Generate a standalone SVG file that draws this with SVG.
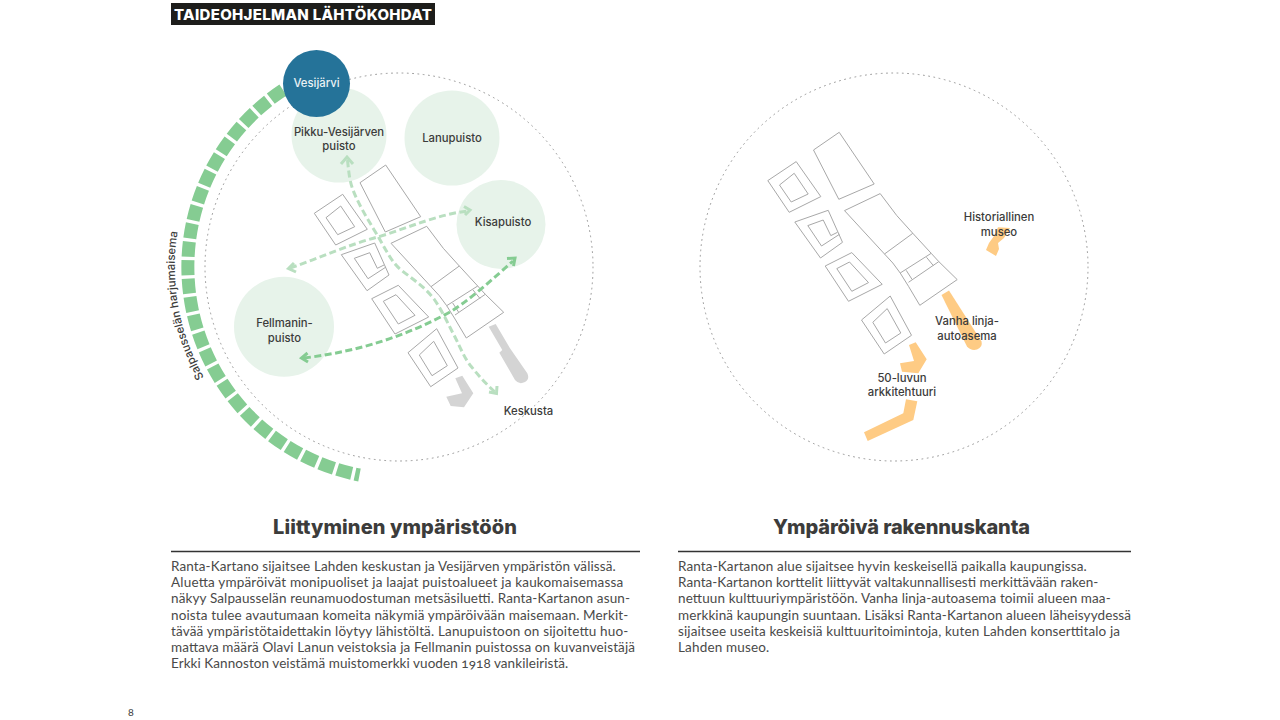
<svg xmlns="http://www.w3.org/2000/svg" xmlns:xlink="http://www.w3.org/1999/xlink" width="1280" height="720" viewBox="0 0 1280 720">
<style>
text{font-family:"Lato","Liberation Sans",sans-serif;fill:#3c3c3b}
.l{font-family:"Inter","Lato",sans-serif;font-size:11.3px;font-weight:500;text-anchor:middle}
.b{font-size:13.5px;fill:#4a4a49;font-variant-numeric:oldstyle-nums}
.h{font-family:"Inter","Lato",sans-serif;font-size:20px;font-weight:800;text-anchor:middle}
.o{fill:none;stroke:#a8a8a8;stroke-width:1}
.d{fill:none;stroke:#959595;stroke-width:1;stroke-dasharray:.9 4.4;stroke-linecap:round}
.p{fill:#e7f3ea}
.a1{fill:none;stroke:#b9dfc0;stroke-width:3;stroke-dasharray:7 3.5}
.a2{fill:none;stroke:#85cc92;stroke-width:3;stroke-dasharray:7 3.5}
.c1{fill:none;stroke:#b9dfc0;stroke-width:3}
.c2{fill:none;stroke:#85cc92;stroke-width:3}
.g{fill:#d4d4d4}
.y{fill:#fecb84}
</style>
<defs>
<g id="blocks">
<path class="o" d="M385.7 165L360 182.7L385.3 232L420.7 216.7Z"/>
<path class="o" d="M342.7 194.3L314.3 213.3L335.7 245L367.3 229.3Z"/>
<path class="o" d="M340.7 206L326 217.7L337.7 234.7L354.7 226.7Z"/>
<path class="o" d="M374.7 243L341.3 254.7L367 290.7L389 275Z"/>
<path class="o" d="M369.7 252.7L354.3 258.3L368 278.7L386 267M377.3 268.3L369.7 252.7M377.3 268.3L384 265"/>
<path class="o" d="M426.7 226.3L391 243.3L431 286.7L439.3 295.7L446.7 305.7L455 319L466.3 338L503.7 312.3L485.3 294.3L477.7 286L459.3 266L443.3 248.3Z"/>
<path class="o" d="M459.3 266L431 286.7M477.7 286L446.7 305.7M485.3 294.3L455 315M473 290L480 298.5M452.7 303L458.5 312"/>
<path class="o" d="M398.3 285.3L371.7 298.7L395 334L428.7 317Z"/>
<path class="o" d="M396 294.7L383.3 301.3L398.3 324L415 315.3Z"/>
<path class="o" d="M436.7 328.7L408 352.7L430.7 386.7L458 368Z"/>
<path class="o" d="M433.7 341.3L419.3 355L432 375.7L447.3 365.7Z"/>
</g>
<path id="ridgeText" d="M204 377.400A224 224 0 0 1 186 197"/>
</defs>
<rect width="1280" height="720" fill="#fff"/>
<g id="title"><rect x="171" y="3" width="264" height="22" fill="#1d1d1b"/>
<text x="174" y="19.500" style="font-family:Inter,Lato,sans-serif;font-size:15px;font-weight:800;fill:#fff" textLength="258">TAIDEOHJELMAN LÄHTÖKOHDAT</text></g>

<g id="left-map">
<circle class="d" cx="399" cy="267" r="194"/>
<path id="ridge" d="M283 90A212 212 0 0 0 359.500 475" fill="none" stroke="#85cc92" stroke-width="13" stroke-dasharray="15 3.400"/>
<g id="pikku"><circle class="p" cx="339" cy="135" r="47.500"/></g>
<g id="lanu"><circle class="p" cx="452" cy="138" r="47.500"/><text class="l" x="452" y="141.500">Lanupuisto</text></g>
<g id="kisa"><circle class="p" cx="501" cy="224.500" r="44.500"/><text class="l" x="503" y="225.500">Kisapuisto</text></g>
<g id="fellman"><circle class="p" cx="284" cy="326.700" r="50"/><text class="l" x="284.500" y="327">Fellmanin-</text><text class="l" x="284.500" y="342">puisto</text></g>
<use xlink:href="#blocks" href="#blocks"/>
<path class="g" d="M455.300 378.300L462.300 375.700L473.300 393.300L464 407.300L450.700 406L446.300 396.700L462 393.300Z"/>
<path class="g" d="M488.700 326.700L495.700 324L510 348.300L527.300 373.300Q530 379 525 382Q519 385 515 380L499.300 352.700L502.300 350Z"/>
<g id="connectors">
<path class="a1" d="M347.500 160C349 175 350 182 353 190C360 208 372 226 379 238C387 252 392 262 400 269C412 279 424 286 434 299C443 312 449 326 455 337C461 349 464 357 470 365C478 375 486 384 495 392"/>
<path class="c1" d="M341 164L347 157L353 164M489 392L496.500 393.500L497 386"/>
<path class="a1" d="M290 268C320 258 350 244 378 237C410 227 440 214 468 211"/>
<path class="c1" d="M294 263L288.500 268.500L296 272M464 206.500L470 210L465 215"/>
<path class="a2" d="M304 358C345 353 395 342 450 312C470 300 495 277 513 261"/>
<path class="c2" d="M307.500 353L301.500 358L308 362M507 258.500L515 258L513.500 266"/>
</g>
<g id="vesi"><circle cx="316.500" cy="83.500" r="33.500" fill="#257399"/><text class="l" x="316.500" y="87" style="fill:#eaf2f5">Vesijärvi</text></g>
<text class="l" x="339" y="136">Pikku-Vesijärven</text><text class="l" x="339" y="150">puisto</text>
<text class="l" x="528.500" y="415">Keskusta</text>
<text style="font-family:Inter,Lato,sans-serif;font-size:11.300px;font-weight:500"><textPath xlink:href="#ridgeText" href="#ridgeText">Salpausselän harjumaisema</textPath></text>
</g>

<g id="right-map">
<circle class="d" cx="894" cy="267" r="194"/>
<use xlink:href="#blocks" href="#blocks" transform="translate(453.500 -32.700)"/>
<path class="y" d="M909 345L915.700 342.300L926.700 359.300L918.300 373.300L902 371.700L900 363.300L914 361Z"/>
<path class="y" d="M941.500 295L949 290.500L981.500 341.500Q983 347 977 349.500Q971 351 967 346.500Z"/>
<path class="y" d="M906 399.300L917.300 401.300L913.300 420L867.700 441L864 432.300L903.300 413.300Z"/>
<path class="y" d="M998 227.300L1010 228L1004 238L998 243L999 249L996 256L986 250L989 243L994 236Z"/>
<text class="l" x="999" y="221">Historiallinen</text><text class="l" x="999" y="236">museo</text>
<text class="l" x="967" y="325">Vanha linja-</text><text class="l" x="967" y="340">autoasema</text>
<text class="l" x="902" y="382">50-luvun</text><text class="l" x="902" y="396">arkkitehtuuri</text>
</g>

<g id="left-text">
<text class="h" x="395" y="534" textLength="244">Liittyminen ympäristöön</text>
<path d="M171 551.500H640" stroke="#333" stroke-width="1.400"/>
<text class="b" x="171" y="571" textLength="444.700">Ranta-Kartano sijaitsee Lahden keskustan ja Vesijärven ympäristön välissä.</text>
<text class="b" x="171" y="587.200" textLength="452.300">Aluetta ympäröivät monipuoliset ja laajat puistoalueet ja kaukomaisemassa</text>
<text class="b" x="171" y="603.400" textLength="459">näkyy Salpausselän reunamuodostuman metsäsiluetti. Ranta-Kartanon asun-</text>
<text class="b" x="171" y="619.600" textLength="457.300">noista tulee avautumaan komeita näkymiä ympäröivään maisemaan. Merkit-</text>
<text class="b" x="171" y="635.800" textLength="457.300">tävää ympäristötaidettakin löytyy lähistöltä. Lanupuistoon on sijoitettu huo-</text>
<text class="b" x="171" y="652" textLength="464">mattava määrä Olavi Lanun veistoksia ja Fellmanin puistossa on kuvanveistäjä</text>
<text class="b" x="171" y="668.200" textLength="397.300">Erkki Kannoston veistämä muistomerkki vuoden 1918 vankileiristä.</text>
</g>
<g id="right-text">
<text class="h" x="901.500" y="534" textLength="257">Ympäröivä rakennuskanta</text>
<path d="M678 551.500H1131" stroke="#333" stroke-width="1.400"/>
<text class="b" x="678" y="571" textLength="408.700">Ranta-Kartanon alue sijaitsee hyvin keskeisellä paikalla kaupungissa.</text>
<text class="b" x="678" y="587.200" textLength="420.300">Ranta-Kartanon korttelit liittyvät valtakunnallisesti merkittävään raken-</text>
<text class="b" x="678" y="603.400" textLength="432.700">nettuun kulttuuriympäristöön. Vanha linja-autoasema toimii alueen maa-</text>
<text class="b" x="678" y="619.600" textLength="453">merkkinä kaupungin suuntaan. Lisäksi Ranta-Kartanon alueen läheisyydessä</text>
<text class="b" x="678" y="635.800" textLength="442">sijaitsee useita keskeisiä kulttuuritoimintoja, kuten Lahden konserttitalo ja</text>
<text class="b" x="678" y="652" textLength="91.300">Lahden museo.</text>
</g>
<text x="128" y="716" font-size="10">8</text>
</svg>
